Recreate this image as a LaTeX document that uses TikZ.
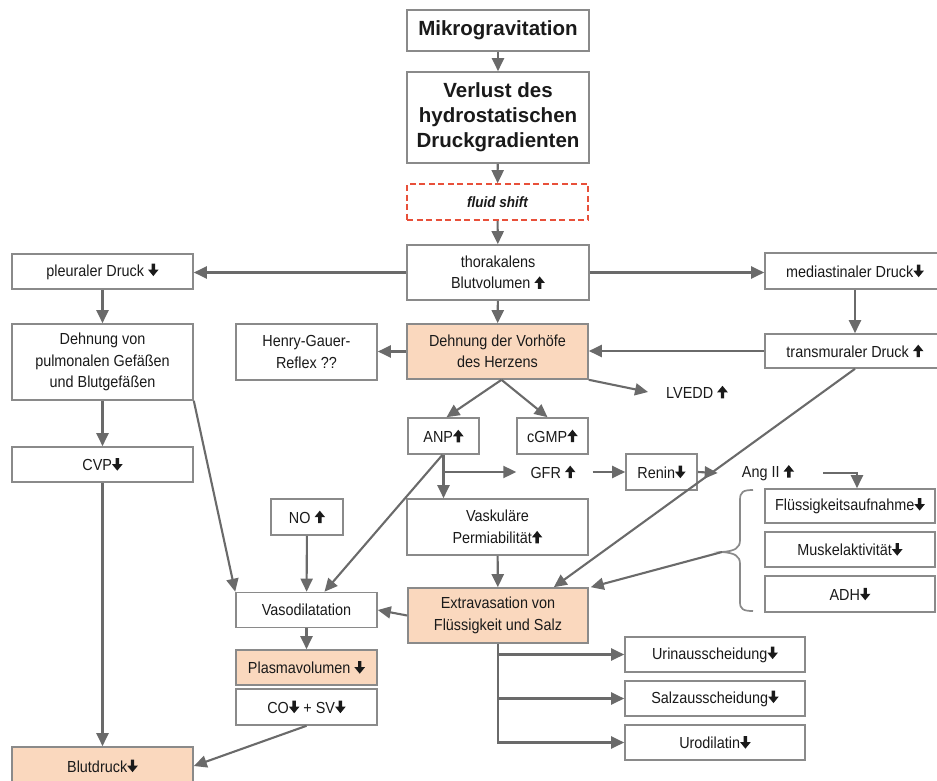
\documentclass[tikz,border=0pt]{standalone}
\usepackage{fontspec}
\setmainfont{Liberation Sans}
\newfontfamily\nf[FakeStretch=0.9]{Liberation Sans}
\usetikzlibrary{arrows.meta}
\definecolor{lgray}{HTML}{6A6A6A}
\definecolor{bgray}{HTML}{8A8A8A}
\definecolor{peach}{HTML}{FAD8BE}
\definecolor{dred}{HTML}{E8503A}
\definecolor{txt}{HTML}{1A1A1A}
\newcommand{\aD}{\tikz[x=1pt,y=1pt,baseline=-0.5pt]\fill[txt] (3.8,12)--(7.2,12)--(7.2,6)--(10.8,6)--(5.5,-0.5)--(0.2,6)--(3.8,6)--cycle;}
\newcommand{\aU}{\tikz[x=1pt,y=1pt,baseline=-0.5pt]\fill[txt] (3.8,-0.5)--(7.2,-0.5)--(7.2,5.5)--(10.8,5.5)--(5.5,12)--(0.2,5.5)--(3.8,5.5)--cycle;}
\tikzset{
  box/.style={draw=bgray, line width=1.6pt, fill=white, rectangle, inner sep=0pt, align=center, text=txt, font=\nf\fontsize{16}{21.5}\selectfont},
  pbox/.style={box, fill=peach},
  tbox/.style={box, font=\bfseries\fontsize{20.5}{25}\selectfont},
  plain/.style={inner sep=0pt, text=txt, font=\nf\fontsize{16}{21.5}\selectfont},
  arr/.style={draw=lgray, line width=2.1pt, -{Triangle[length=13pt,width=12pt]}},
  bracestyle/.style={draw=bgray, line width=1.7pt}
}
\begin{document}
\begin{tikzpicture}[x=1pt,y=-1pt]
\useasboundingbox (0,0) rectangle (937,781);
% top chain
\node[tbox, minimum width=182, minimum height=41] (mikro) at (498,30.5) {Mikrogravitation};
\node[tbox, minimum width=182, minimum height=91] (verlust) at (498,117.5) {Verlust des\\hydrostatischen\\Druckgradienten};
\node[box, draw=dred, dash pattern=on 6pt off 3.5pt, minimum width=181, minimum height=36, font=\nf\bfseries\itshape\fontsize{15}{18}\selectfont] (fluid) at (497.5,202) {fluid shift};
\node[box, minimum width=182, minimum height=55] (thor) at (498,272.5) {thorakalens\\Blutvolumen \aU};
\node[box, minimum width=181, minimum height=35] (pleu) at (102.5,271.5) {pleuraler Druck \aD};
\node[box, minimum width=180, minimum height=36] (med) at (855,271) {mediastinaler Druck\aD};
\node[pbox, minimum width=181, minimum height=55] (dvh) at (497.5,351.5) {Dehnung der Vorhöfe\\des Herzens};
\node[box, minimum width=141, minimum height=56] (henry) at (306.5,352) {Henry-Gauer-\\Reflex ??};
\node[box, minimum width=180, minimum height=34] (trans) at (855,351) {transmuraler Druck \aU};
\node[box, minimum width=181, minimum height=76] (dpul) at (102.5,362) {Dehnung von\\pulmonalen Gefäßen\\und Blutgefäßen};
\node[plain] (lvedd) at (697,392) {LVEDD \aU};
\node[box, minimum width=71, minimum height=36] (anp) at (443.5,436) {ANP\aU};
\node[box, minimum width=71, minimum height=36] (cgmp) at (552.5,436) {cGMP\aU};
\node[plain] (gfr) at (553,472) {GFR \aU};
\node[box, minimum width=71, minimum height=36] (renin) at (661.5,472) {Renin\aD};
\node[plain] (ang) at (768,473) {Ang II \aU};
\node[box, minimum width=181, minimum height=35] (cvp) at (102.5,464.5) {CVP\aD};
\node[box, minimum width=72, minimum height=36] (no) at (307,517) {NO \aU};
\node[box, minimum width=181, minimum height=56] (vask) at (497.5,527) {Vaskuläre\\Permiabilität\aU};
\node[box, minimum width=170, minimum height=34] (flues) at (850,506) {Flüssigkeitsaufnahme\aD};
\node[box, minimum width=170, minimum height=35] (musk) at (850,549.5) {Muskelaktivität\aD};
\node[box, minimum width=170, minimum height=36] (adh) at (850,594) {ADH\aD};
\node[pbox, minimum width=180, minimum height=55] (extra) at (498,615.5) {Extravasation von\\Flüssigkeit und Salz};
\node[box, minimum width=141, minimum height=35] (vaso) at (306.5,610) {Vasodilatation};
\node[pbox, minimum width=141, minimum height=35] (plasma) at (306.5,667.5) {Plasmavolumen \aD};
\node[box, minimum width=141, minimum height=36] (cosv) at (306.5,707) {CO\aD{} + SV\aD};
\node[box, minimum width=180, minimum height=35] (urin) at (715,654.5) {Urinausscheidung\aD};
\node[box, minimum width=180, minimum height=35] (salz) at (715,698.5) {Salzausscheidung\aD};
\node[box, minimum width=180, minimum height=35] (urod) at (715,742.5) {Urodilatin\aD};
\node[pbox, minimum width=181, minimum height=38] (blut) at (102.5,766) {Blutdruck\aD};
% brace
\coordinate (bt) at (722,552);
\draw[bracestyle] (753,490) .. controls (743,490) and (740,492) .. (740,500) -- (740,540) .. controls (740,548) and (735,551) .. (bt) .. controls (735,553) and (740,556) .. (740,564) -- (740,602) .. controls (740,609) and (743,611) .. (753,611);
% connectors
\draw[arr] (mikro) -- (verlust);
\draw[arr] (verlust) -- (fluid);
\draw[arr] (fluid) -- (thor);
\draw[arr] (thor.west) -- (thor.west -| pleu.east);
\draw[arr] (thor.east) -- (thor.east -| med.west);
\draw[arr] (thor) -- (dvh);
\draw[arr] (med) -- (trans);
\draw[arr] (trans.west) -- (trans.west -| dvh.east);
\draw[arr] (dvh.west) -- (dvh.west -| henry.east);
\draw[arr] (pleu) -- (dpul);
\draw[arr] (dpul) -- (cvp);
\draw[arr] (cvp) -- (blut);
\draw[arr] (dvh.south east) -- ([xshift=-18pt]lvedd.west);
\draw[arr] ([xshift=4pt]dvh.south) -- ([xshift=3pt]anp.north);
\draw[arr] ([xshift=4pt]dvh.south) -- ([xshift=-5pt]cgmp.north);
\draw[arr] (anp.south) -- (anp.south |- vask.north);
\draw[arr] (anp.south |- gfr.west) -- ([xshift=-14pt]gfr.west);
\draw[arr] ([xshift=-1pt]anp.south) -- ([xshift=18pt]vaso.north);
\draw[arr] ([xshift=17pt]gfr.east) -- (renin.west);
\draw[arr] (renin.east) -- ([xshift=-24pt]ang.west);
\draw[arr] ([xshift=29pt]ang.east) -| ([xshift=7pt]flues.north);
\draw[arr] (trans.south) -- ([xshift=-35pt]extra.north east);
\draw[arr] (bt) -- ([xshift=2pt]extra.north east);
\draw[arr] (vask) -- (extra);
\draw[arr] (dpul.south east) -- (vaso.north west);
\draw[arr] (no) -- (vaso);
\draw[arr] (extra.west) -- (vaso.east);
\draw[arr] (vaso) -- (plasma);
\draw[arr] (cosv.south) -- (blut.east);
\draw[arr] (extra.south) |- (urod.west);
\draw[arr] (extra.south |- urin.west) -- (urin.west);
\draw[arr] (extra.south |- salz.west) -- (salz.west);
\end{tikzpicture}
\end{document}
